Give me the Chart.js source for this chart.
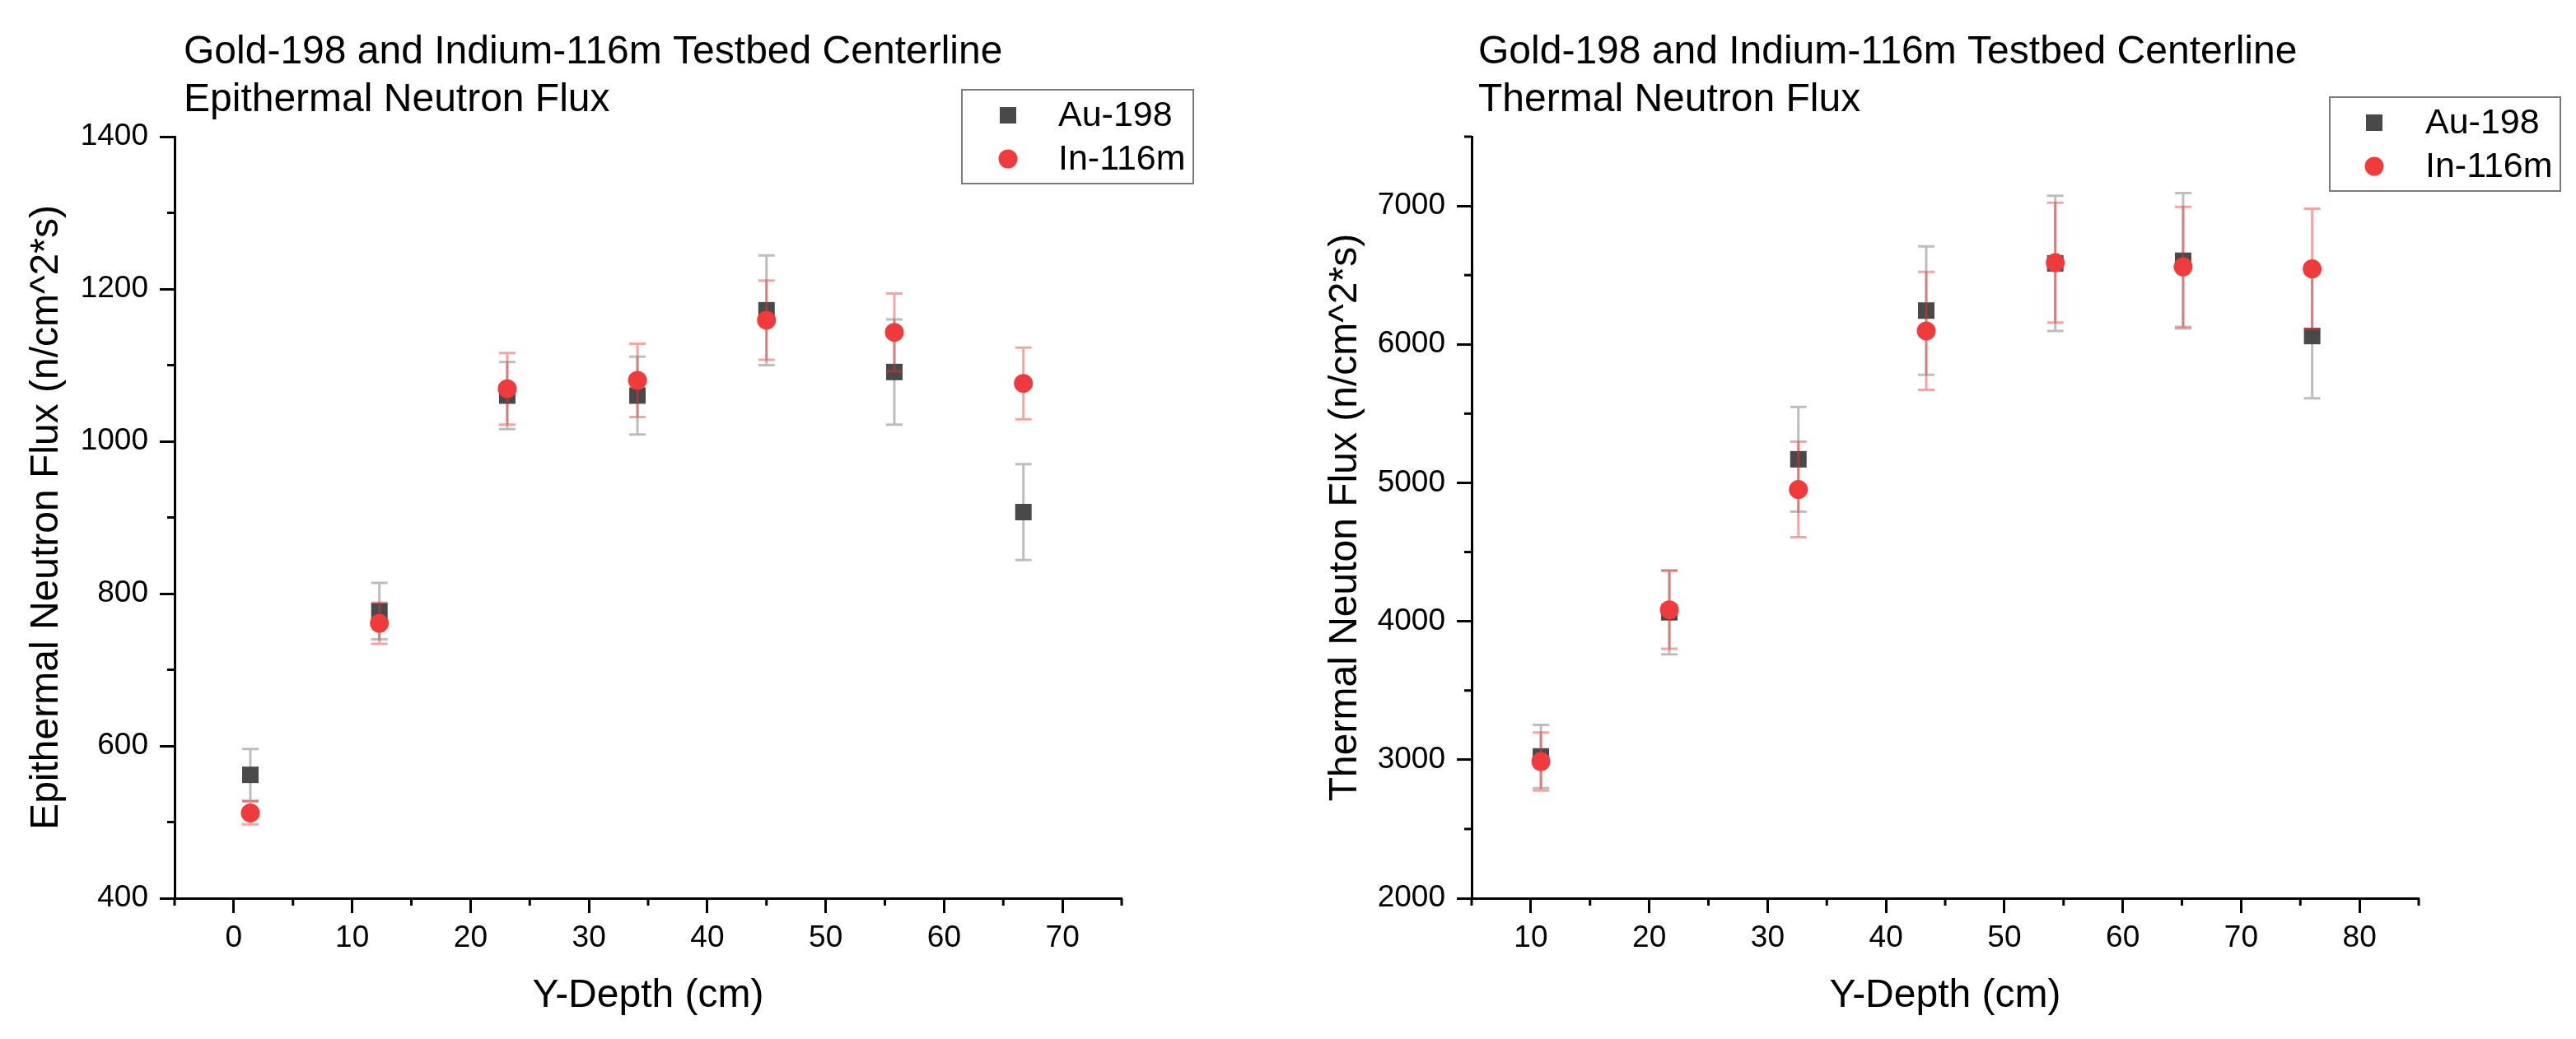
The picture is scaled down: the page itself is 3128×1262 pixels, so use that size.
<!DOCTYPE html>
<html>
<head>
<meta charset="utf-8">
<script src="https://cdn.jsdelivr.net/npm/chart.js@4.4.1/dist/chart.umd.min.js"></script>
<style>
html,body{margin:0;padding:0;background:#fff;}
#wrap{position:relative;width:3128px;height:1262px;background:#fff;}
canvas{position:absolute;top:0;}
</style>
</head>
<body>
<div id="wrap">
<canvas id="c1" width="1564" height="1262" style="left:0;width:1564px;height:1262px"></canvas>
<canvas id="c2" width="1564" height="1262" style="left:1564px;width:1564px;height:1262px"></canvas>
</div>
<script>
// ---------- DATA ----------
const seriesNames = ['Au-198', 'In-116m'];

// Epithermal (left)
const epiTitle = ['Gold-198 and Indium-116m Testbed Centerline', 'Epithermal Neutron Flux'];
const epiYLabel = 'Epithermal Neutron Flux (n/cm^2*s)';
const epiDepth = [1.4, 12.3, 23.1, 34.1, 45.0, 55.8, 66.7];
const epiAu    = [562, 777, 1060, 1060, 1172, 1091, 907];
const epiAuErr = [34, 37, 44, 51, 72, 69, 63];
const epiIn    = [512, 761, 1069, 1080, 1159, 1143, 1076];
const epiInErr = [15, 27, 47, 48, 52, 51, 47];
const epiXTicks = [0, 10, 20, 30, 40, 50, 60, 70];
const epiYTicks = [400, 600, 800, 1000, 1200, 1400];

// Thermal (right)
const thTitle = ['Gold-198 and Indium-116m Testbed Centerline', 'Thermal Neutron Flux'];
const thYLabel = 'Thermal Neuton Flux (n/cm^2*s)';
const thDepth = [10.85, 21.7, 32.6, 43.4, 54.3, 65.1, 76.0];
const thAu    = [3024, 4065, 5170, 6244, 6585, 6604, 6060];
const thAuErr = [228, 303, 378, 464, 488, 489, 450];
const thIn    = [2987, 4083, 4952, 6097, 6590, 6560, 6545];
const thInErr = [210, 282, 345, 426, 433, 433, 435];
const thXTicks = [10, 20, 30, 40, 50, 60, 70, 80];
const thYTicks = [2000, 3000, 4000, 5000, 6000, 7000];

const xLabel = 'Y-Depth (cm)';

// ---------- STYLE ----------
const FONT = '"Liberation Sans", Arial, Helvetica, sans-serif';
const AU_COLOR = '#494949';
const IN_COLOR = '#EF3B3B';
const AU_ERR = 'rgba(0,0,0,0.26)';
const IN_ERR = 'rgba(240,50,50,0.45)';

function pts(xs, ys) { return xs.map((x, i) => ({x: x, y: ys[i]})); }

// error bars drawn via the chart's own scales
const errorBarPlugin = {
  id: 'errorBars',
  beforeDatasetDraw(chart, args) {
    const ds = chart.data.datasets[args.index];
    if (!ds.errors) return;
    const xs = chart.scales.x, ys = chart.scales.y;
    const ctx = chart.ctx;
    ctx.save();
    ctx.strokeStyle = ds.errorColor;
    ctx.lineWidth = 3;
    ds.data.forEach((p, i) => {
      const e = ds.errors[i];
      const px = xs.getPixelForValue(p.x);
      const t = ys.getPixelForValue(p.y + e);
      const b = ys.getPixelForValue(p.y - e);
      ctx.beginPath();
      ctx.moveTo(px, t); ctx.lineTo(px, b);
      ctx.moveTo(px - 10, t); ctx.lineTo(px + 10, t);
      ctx.moveTo(px - 10, b); ctx.lineTo(px + 10, b);
      ctx.stroke();
    });
    ctx.restore();
  }
};

// minor ticks + title + framed legend
const decorPlugin = {
  id: 'decor',
  afterDraw(chart, args, opts) {
    const ctx = chart.ctx;
    const ca = chart.chartArea;
    ctx.save();
    // minor ticks (half-way between majors, across the whole axis range)
    ctx.strokeStyle = '#000';
    ctx.lineWidth = 3;
    ['x', 'y'].forEach(id => {
      const s = chart.scales[id];
      const majors = s.ticks.map(t => t.value);
      const minor = (majors[1] - majors[0]) / 2;
      const start = Math.ceil(s.min / minor - 1e-9) * minor;
      for (let v = start; v <= s.max + 1e-9; v += minor) {
        if (majors.some(m => Math.abs(m - v) < 1e-6)) continue;
        const p = s.getPixelForValue(v);
        ctx.beginPath();
        if (id === 'x') { ctx.moveTo(p, ca.bottom); ctx.lineTo(p, ca.bottom + 9); }
        else { ctx.moveTo(ca.left, p); ctx.lineTo(ca.left - 9, p); }
        ctx.stroke();
      }
    });
    // title
    ctx.fillStyle = '#000';
    ctx.font = '48px ' + FONT;
    ctx.textAlign = 'left';
    ctx.textBaseline = 'alphabetic';
    opts.title.forEach((line, i) => ctx.fillText(line, opts.titleX, opts.titleY + i * opts.titleGap));
    // legend
    const L = opts.legend;
    ctx.strokeStyle = '#7a7a7a';
    ctx.lineWidth = 2;
    ctx.strokeRect(L.x, L.y, L.w, L.h);
    ctx.font = '43px ' + FONT;
    chart.data.datasets.slice().sort((a, b) => a.legendIndex - b.legendIndex).forEach((ds, i) => {
      const cy = L.y + L.firstRow + i * L.rowGap;
      ctx.fillStyle = ds.backgroundColor;
      if (ds.pointStyle === 'rect') {
        ctx.fillRect(L.x + L.markX - 10, cy - 10, 20, 20);
      } else {
        ctx.beginPath(); ctx.arc(L.x + L.markX, cy, 11.5, 0, Math.PI * 2); ctx.fill();
      }
      ctx.fillStyle = '#000';
      ctx.textBaseline = 'middle';
      ctx.fillText(ds.label, L.x + L.textX, cy + 1);
    });
    ctx.restore();
  }
};

function makeChart(canvasId, cfg) {
  const tickFont = {family: FONT, size: 37};
  const titleFont = {family: FONT, size: 48};
  const axisCommon = (extra) => Object.assign({
    type: 'linear',
    grid: {display: true, drawOnChartArea: false, drawTicks: true, tickLength: 18, tickWidth: 3, tickColor: '#000'},
    border: {display: true, color: '#000', width: 3}
  }, extra);
  return new Chart(document.getElementById(canvasId), {
    type: 'scatter',
    data: {
      datasets: [
        {label: seriesNames[1], legendIndex: 1, order: 1, data: pts(cfg.x, cfg.inY), errors: cfg.inErr, errorColor: IN_ERR,
         pointStyle: 'circle', pointRadius: 11.5, pointHoverRadius: 11.5, backgroundColor: IN_COLOR, borderWidth: 0},
        {label: seriesNames[0], legendIndex: 0, order: 2, data: pts(cfg.x, cfg.auY), errors: cfg.auErr, errorColor: AU_ERR,
         pointStyle: 'rect', pointRadius: 14.14, pointHoverRadius: 14.14, backgroundColor: AU_COLOR, borderWidth: 0}
      ]
    },
    options: {
      responsive: false,
      animation: false,
      devicePixelRatio: 1,
      events: [],
      layout: {padding: {top: 166, right: cfg.padRight, bottom: 0, left: 0}},
      plugins: {
        legend: {display: false},
        title: {display: false},
        tooltip: {enabled: false},
        decor: {title: cfg.title, titleX: cfg.titleX, titleY: 77, titleGap: 58, legend: cfg.legend}
      },
      scales: {
        x: axisCommon({
          position: 'bottom', min: cfg.xMin, max: cfg.xMax,
          ticks: {color: '#000', font: tickFont, padding: 9, maxRotation: 0, autoSkip: false, callback: (v) => String(v)},
          afterBuildTicks: (s) => { s.ticks = cfg.xTicks.map(v => ({value: v})); },
          title: {display: true, text: xLabel, color: '#000', font: titleFont, padding: {top: 0, bottom: 23}},
          afterFit: (s) => { s.height = 171; }
        }),
        y: axisCommon({
          position: 'left', min: cfg.yMin, max: cfg.yMax,
          ticks: {color: '#000', font: tickFont, padding: 14, autoSkip: false, callback: (v) => String(v)},
          afterBuildTicks: (s) => { s.ticks = cfg.yTicks.map(v => ({value: v})); },
          title: {display: true, text: cfg.yLabel, color: '#000', font: titleFont, padding: {top: cfg.yTitlePad, bottom: 0}},
          afterFit: (s) => { s.width = cfg.yWidth; }
        })
      }
    },
    plugins: [errorBarPlugin, decorPlugin]
  });
}

makeChart('c1', {
  x: epiDepth, auY: epiAu, auErr: epiAuErr, inY: epiIn, inErr: epiInErr,
  xMin: -5, xMax: 75, yMin: 400, yMax: 1400, xTicks: epiXTicks, yTicks: epiYTicks,
  yLabel: epiYLabel, title: epiTitle, titleX: 223,
  yWidth: 212, padRight: 202, yTitlePad: 28,
  legend: {x: 1168, y: 109, w: 281, h: 114, markX: 56, textX: 117, firstRow: 31, rowGap: 53}
});

makeChart('c2', {
  x: thDepth, auY: thAu, auErr: thAuErr, inY: thIn, inErr: thInErr,
  xMin: 5, xMax: 85, yMin: 2000, yMax: 7500, xTicks: thXTicks, yTicks: thYTicks,
  yLabel: thYLabel, title: thTitle, titleX: 231,
  yWidth: 223, padRight: 191, yTitlePad: 41,
  legend: {x: 1265, y: 118, w: 280, h: 114, markX: 54, textX: 116, firstRow: 31, rowGap: 53}
});
</script>
</body>
</html>
